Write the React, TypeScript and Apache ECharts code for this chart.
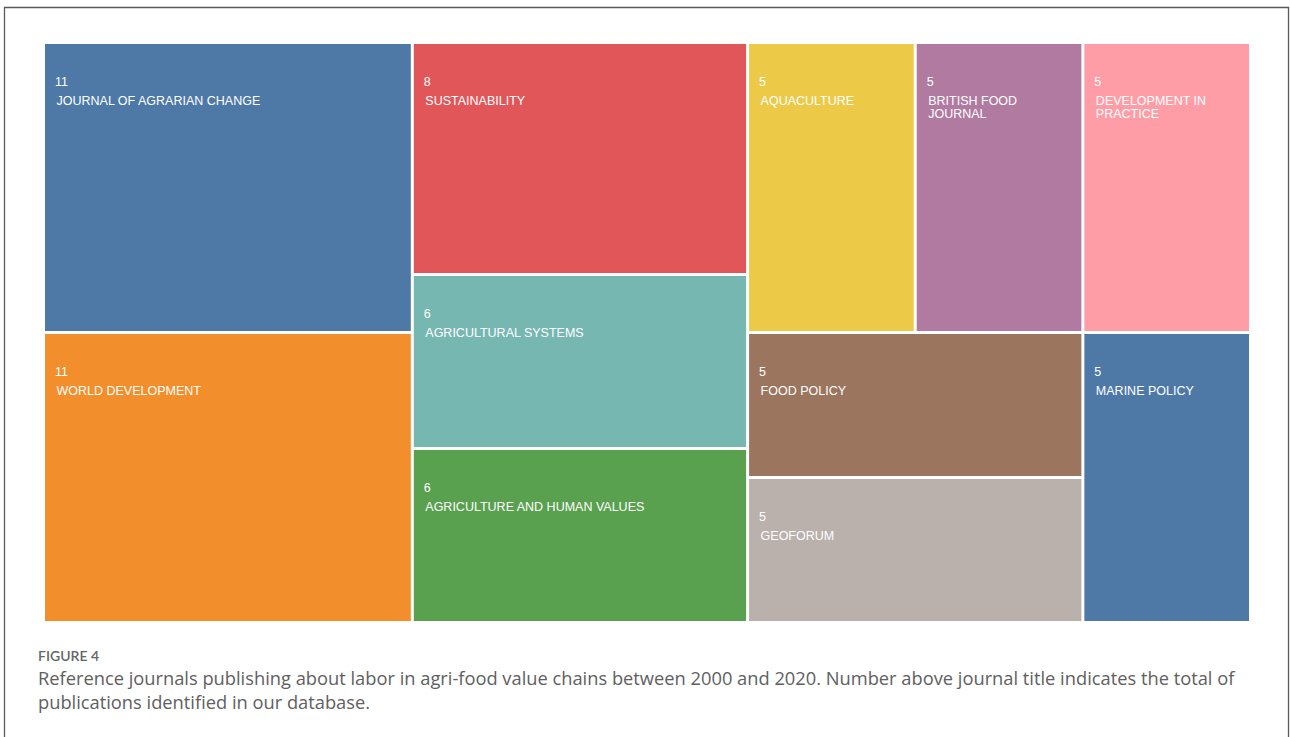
import React, { useEffect, useRef } from "react";
import * as echarts from "echarts";

// ---- data ----
const journals = [
  "JOURNAL OF AGRARIAN CHANGE",
  "WORLD DEVELOPMENT",
  "SUSTAINABILITY",
  "AGRICULTURAL SYSTEMS",
  "AGRICULTURE AND HUMAN VALUES",
  "AQUACULTURE",
  "BRITISH FOOD JOURNAL",
  "DEVELOPMENT IN PRACTICE",
  "FOOD POLICY",
  "GEOFORUM",
  "MARINE POLICY",
];
const publications = [11, 11, 8, 6, 6, 5, 5, 5, 5, 5, 5];
const colors = [
  "#4E79A7",
  "#F28E2B",
  "#E15759",
  "#76B7B2",
  "#59A14F",
  "#EDC948",
  "#B07AA1",
  "#FF9DA7",
  "#9C755F",
  "#BAB0AC",
  "#4E79A7",
];
// grouping of journal indices (tile arrangement)
const grouping: any[] = [[0, 1], [[[2, 3], 4], [5, 6, 7, 8, 9, 10]]];

const figureLabel = "FIGURE 4";
const captionLines = [
  "Reference journals publishing about labor in agri-food value chains between 2000 and 2020. Number above journal title indicates the total of",
  "publications identified in our database.",
];

function buildNode(g: any, key: string): any {
  if (typeof g === "number") {
    return {
      name: journals[g],
      value: publications[g],
      itemStyle: { color: colors[g] },
    };
  }
  const children = g.map((c: any, i: number) => buildNode(c, key + "-" + i));
  const sum = children.reduce((s: number, c: any) => s + c.value, 0);
  return { name: "group" + key, value: sum, children };
}

const FONT = "Liberation Sans, Arial, sans-serif";

export default function App() {
  const ref = useRef<HTMLDivElement>(null);
  useEffect(() => {
    if (!ref.current) return;
    const chart = echarts.init(ref.current, null, { renderer: "svg" });
    const data = grouping.map((g, i) => buildNode(g, String(i)));
    const levelStyle = {
      itemStyle: { gapWidth: 3, borderWidth: 0, borderColor: "#ffffff" },
    };
    chart.setOption({
      animation: false,
      backgroundColor: "#ffffff",
      series: [
        {
          type: "treemap",
          left: 45,
          top: 44,
          width: 1204,
          height: 577,
          sort: false,
          squareRatio: 1.38,
          roam: false,
          nodeClick: false,
          breadcrumb: { show: false },
          itemStyle: { gapWidth: 3, borderWidth: 0, borderColor: "#ffffff" },
          levels: [levelStyle, levelStyle, levelStyle, levelStyle, levelStyle],
          label: {
            show: true,
            position: "insideTopLeft",
            distance: 0,
            padding: [25, 30, 0, 10],
            overflow: "break",
            color: "#ffffff",
            fontFamily: FONT,
            fontSize: 12.5,
            lineHeight: 13,
            formatter: "{v|{c}}\n\n{n|{b}}",
            rich: {
              v: {
                color: "#ffffff",
                fontFamily: FONT,
                fontSize: 12.5,
                lineHeight: 25,
              },
              n: {
                color: "#ffffff",
                fontFamily: FONT,
                fontSize: 12.5,
                lineHeight: 13,
                padding: [0, 0, 0, 1.5],
              },
            },
          },
          upperLabel: { show: false },
          data,
        },
      ],
      graphic: [
        {
          type: "rect",
          silent: true,
          shape: { x: 4.5, y: 7.5, width: 1284, height: 760 },
          style: { fill: "none", stroke: "#5a5a5a", lineWidth: 1.3 },
        },
        {
          type: "text",
          left: 38,
          top: 648,
          style: {
            text: figureLabel,
            fill: "#666666",
            font: "600 14px Lato, 'Open Sans', sans-serif",
          },
        },
        {
          type: "text",
          left: 38,
          top: 668,
          style: {
            text: captionLines[0],
            fill: "#606060",
            font: "18.3px 'Open Sans', Lato, sans-serif",
          },
        },
        {
          type: "text",
          left: 38,
          top: 692,
          style: {
            text: captionLines[1],
            fill: "#606060",
            font: "18.3px 'Open Sans', Lato, sans-serif",
          },
        },
      ],
    });
    return () => chart.dispose();
  }, []);
  return (
    <div
      ref={ref}
      style={{ position: "fixed", left: 0, top: 0, width: 1290, height: 737 }}
    />
  );
}
